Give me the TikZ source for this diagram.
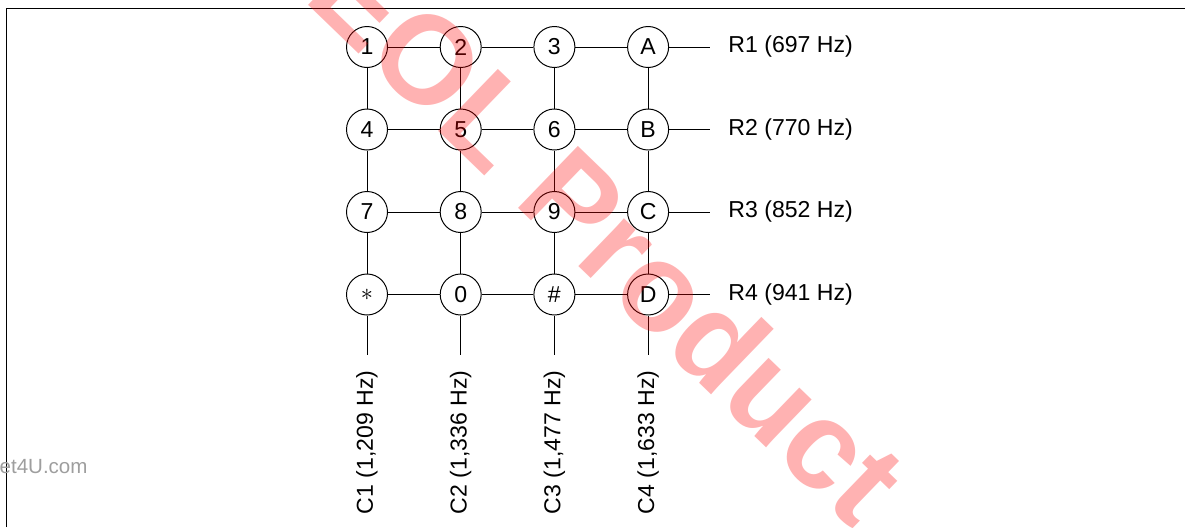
\documentclass[tikz,border=0pt]{standalone}
\usepackage{fontspec}
\setmainfont{Liberation Sans}

\begin{document}
\begin{tikzpicture}[x=0.025cm,y=-0.025cm,line width=0.7pt,
  key/.style={draw,circle,minimum size=1.025cm,inner sep=0pt,
    font=\fontsize{16.4}{19}\selectfont},
  freq/.style={inner sep=0pt,font=\fontsize{16.4}{19}\selectfont}]
  \useasboundingbox (0,0) rectangle (1185,527);
  % page frame, open to the right and bottom
  \draw (6,527) -- (6,8) -- (1185,8);
  % key matrix: rows 1..4, columns 1..4
  \foreach \r/\y/\keys in {1/47/{1,2,3,A}, 2/129.5/{4,5,6,B},
      3/212/{7,8,9,C}, 4/294.5/{$*$,0,\#,D}} {
    \foreach \k [count=\c] in \keys {
      \pgfmathsetmacro{\x}{367+93.7*(\c-1)}
      \node[key] (k\r\c) at (\x,\y) {\k};
    }
  }
  % row wires and tones
  \foreach \r/\y/\hz in {1/47/697, 2/129.5/770, 3/212/852, 4/294.5/941} {
    \draw (k\r1) -- (k\r2) -- (k\r3) -- (k\r4);
    \coordinate (re\r) at (710,\y);
    \draw (k\r4) -- (re\r);
    \node[freq,anchor=west] (rl\r) at (728,\y) {R\r{} (\hz{} Hz)};
  }
  % column wires and tones
  \foreach \c/\hz in {1/{1,209}, 2/{1,336}, 3/{1,477}, 4/{1,633}} {
    \draw (k1\c) -- (k2\c) -- (k3\c) -- (k4\c);
    \path (k4\c) ++(0,60.5) coordinate (ce\c);
    \draw (k4\c) -- (ce\c);
    \path (k4\c) ++(0,75.5) coordinate (ct\c);
    \node[freq,rotate=90,anchor=east] (cl\c) at (ct\c) {C\c{} (\hz{} Hz)};
  }
  % stamps on the scanned sheet
  \node[anchor=base east,inner sep=0pt,text=black!38,
    font=\fontsize{14.6}{17}\selectfont] (site) at (88,473) {et4U.com};
  \node[rotate=-44,inner sep=0pt,text=red,opacity=0.3,
    font=\fontsize{89}{89}\selectfont\bfseries] (eol) at (609,233) {EOL Product};
\end{tikzpicture}
\end{document}
